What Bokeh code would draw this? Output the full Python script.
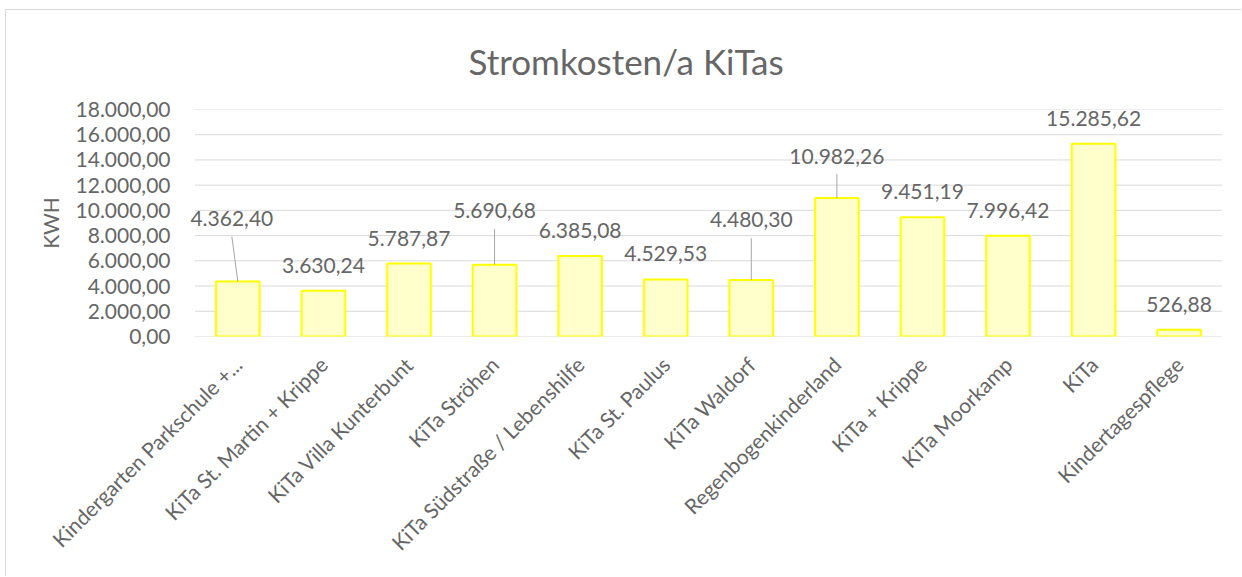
import math
from bokeh.plotting import figure
from bokeh.models import (ColumnDataSource, FactorRange, Range1d, FixedTicker,
                          CustomJSTickFormatter, LabelSet, Title)
from bokeh.core.properties import value
from bokeh.embed import file_html
from bokeh.resources import INLINE

# ---- data ----
categories = [
    "Kindergarten Parkschule +...",
    "KiTa St. Martin + Krippe",
    "KiTa Villa Kunterbunt",
    "KiTa Ströhen",
    "KiTa Südstraße / Lebenshilfe",
    "KiTa St. Paulus",
    "KiTa Waldorf",
    "Regenbogenkinderland",
    "KiTa + Krippe",
    "KiTa Moorkamp",
    "KiTa",
    "Kindertagespflege",
]
costs = [4362.40, 3630.24, 5787.87, 5690.68, 6385.08, 4529.53,
         4480.30, 10982.26, 9451.19, 7996.42, 15285.62, 526.88]
y_ticks = [0, 2000, 4000, 6000, 8000, 10000, 12000, 14000, 16000, 18000]
title_text = "Stromkosten/a KiTas"
y_label = "KWH"

# ---- styling (pixel offsets of the data labels above the bar tops) ----
label_dy = [63, 25.5, 25.5, 54, 25.5, 25.5, 60, 42, 25.5, 25.5, 25.5, 25.5]
label_dx = [-6, 0, 0, 0, 0, 0, 0, 0, 0, 0, 0, 0]
leader = [True, False, False, True, False, False, True, True, False, False, False, False]

FONT = "Lato"
TXT = "#666666"
GRID = "#d9d9d9"

PAD = 0.1  # x padding per side (category units) so edge labels are not clipped
W, H = 1236, 567
BL, BR, BT, BB = 180, 12, 98, 241
frame_w = W - BL - BR
frame_h = H - BT - BB
y_max = y_ticks[-1]
units_per_px = y_max / frame_h
px_per_cat = frame_w / (len(categories) + 2 * PAD)


def de_fmt(v):
    s = f"{v:,.2f}"
    return s.replace(",", "X").replace(".", ",").replace("X", ".")


labels = [de_fmt(v) for v in costs]

src = ColumnDataSource(dict(cat=categories, val=costs, lab=labels,
                            dy=[d for d in label_dy], dx=label_dx))

p = figure(width=W, height=H, x_range=FactorRange(*categories),
           y_range=Range1d(0, y_max), output_backend="svg", toolbar_location=None,
           min_border_left=BL, min_border_right=BR, min_border_top=BT,
           min_border_bottom=BB)
p.x_range.range_padding = PAD
p.x_range.range_padding_units = "absolute"
p.x_range.factor_padding = 0
p.outline_line_color = None
p.background_fill_color = "white"
p.border_fill_color = "white"
p.styles = {"border-left": "1px solid #d9d9d9", "border-top": "1px solid #d9d9d9",
            "margin-left": "5px", "margin-top": "9px"}

# grid (horizontal lines spanning the category band only)
p.xgrid.grid_line_color = None
p.ygrid.grid_line_color = None
p.segment(x0=[0] * len(y_ticks), x1=[len(categories)] * len(y_ticks),
          y0=y_ticks, y1=y_ticks, line_color=GRID, line_width=1)

# bars
p.vbar(x="cat", top="val", width=0.51, source=src, fill_color="#FFFFCC",
       line_color="#FFFF00", line_width=2)

# leader lines
lx0, ly0, lx1, ly1 = [], [], [], []
for i, (v, d, dx, has) in enumerate(zip(costs, label_dy, label_dx, leader)):
    if has:
        xc = i + 0.5
        lx0.append(xc)
        ly0.append(v)
        lx1.append(xc + dx / px_per_cat)
        ly1.append(v + (d - 18) * units_per_px)
p.segment(x0=lx0, y0=ly0, x1=lx1, y1=ly1, line_color="#a6a6a6", line_width=1)

# data labels
p.add_layout(LabelSet(x="cat", y="val", text="lab", source=src, y_offset="dy",
                      x_offset="dx", text_align="center", text_baseline="middle",
                      text_color=TXT, text_font=value(FONT), text_font_size="21px"))

# axes
p.yaxis.ticker = FixedTicker(ticks=y_ticks)
p.yaxis.formatter = CustomJSTickFormatter(code="""
const s = tick.toFixed(2).split('.');
return s[0].replace(/\\B(?=(\\d{3})+(?!\\d))/g, '.') + ',' + s[1];
""")
p.yaxis.axis_line_color = None
p.yaxis.major_tick_line_color = None
p.yaxis.minor_tick_line_color = None
p.yaxis.major_label_standoff = 10
p.yaxis.major_label_text_font = FONT
p.yaxis.major_label_text_font_size = "21px"
p.yaxis.major_label_text_color = TXT
p.yaxis.axis_label = y_label
p.yaxis.axis_label_text_font = FONT
p.yaxis.axis_label_text_font_size = "21px"
p.yaxis.axis_label_text_font_style = "normal"
p.yaxis.axis_label_text_color = TXT
p.yaxis.axis_label_standoff = 10

p.xaxis.axis_line_color = None
p.xaxis.major_tick_line_color = None
p.xaxis.minor_tick_line_color = None
p.xaxis.major_label_orientation = math.pi / 4
p.xaxis.major_label_standoff = 18
p.xaxis.major_label_text_font = FONT
p.xaxis.major_label_text_font_size = "21px"
p.xaxis.major_label_text_color = TXT
p.xaxis.major_label_text_baseline = "top"
p.xaxis.major_label_text_align = "right"

# title
p.add_layout(Title(text=title_text, align="left", text_font=FONT,
                   text_font_size="35px", text_font_style="normal",
                   text_color=TXT, standoff=55, offset=282), "above")

open("out.html", "w").write(file_html(p, INLINE))
